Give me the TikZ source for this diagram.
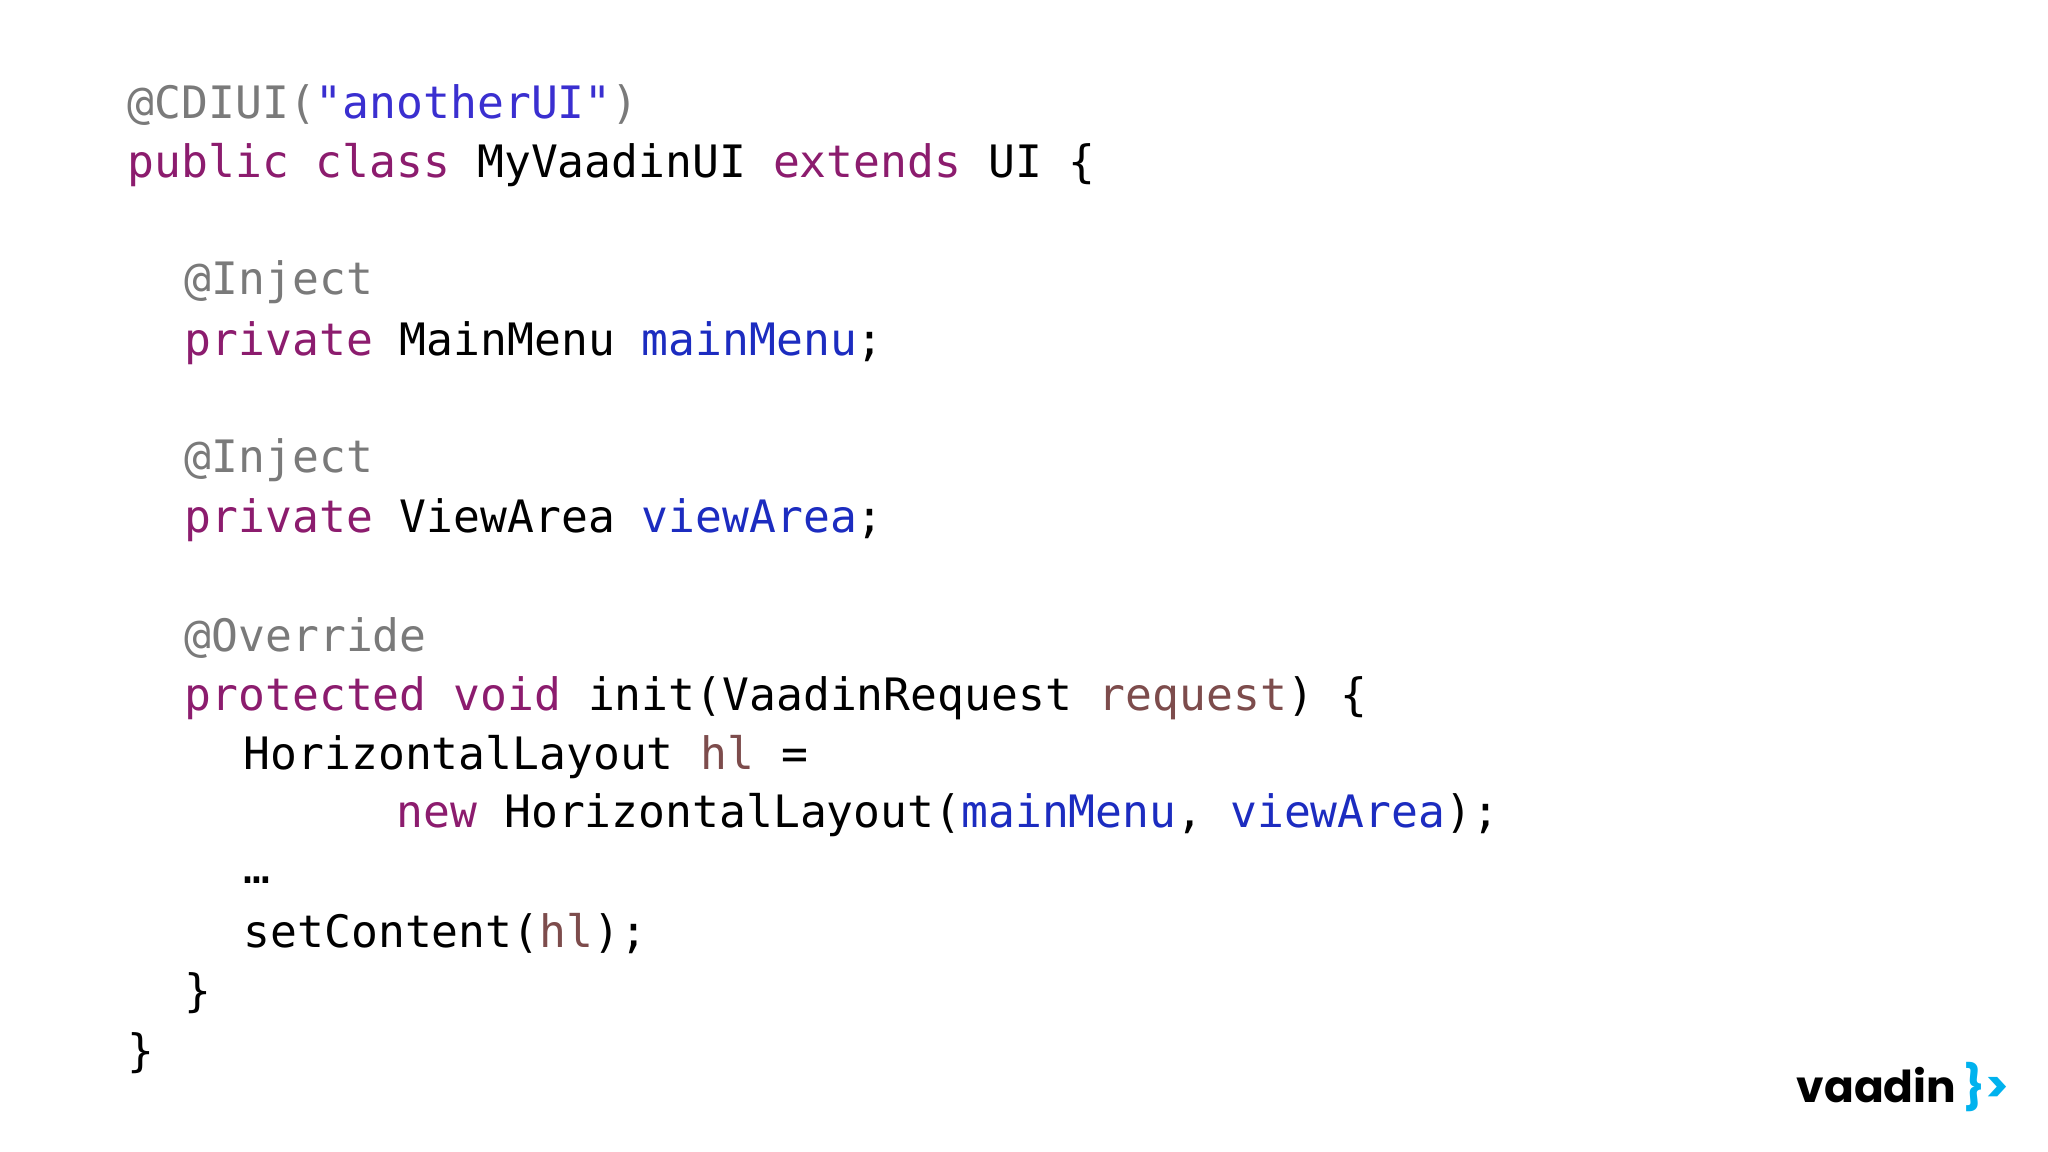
\documentclass[tikz,border=0pt]{standalone}
\usepackage{fontspec}
\setmonofont{DejaVu Sans Mono}
\newfontfamily\logofont{Poppins}
\definecolor{kw}{HTML}{8C1C6E}
\definecolor{ann}{HTML}{7A7A7A}
\definecolor{str}{HTML}{3A2FD0}
\definecolor{fld}{HTML}{1C2CC0}
\definecolor{loc}{HTML}{7D4C4C}
\definecolor{cy}{HTML}{00B2EE}
\newcommand{\K}[1]{\textcolor{kw}{#1}}
\newcommand{\A}[1]{\textcolor{ann}{#1}}
\newcommand{\F}[1]{\textcolor{fld}{#1}}
\newcommand{\Lc}[1]{\textcolor{loc}{#1}}
\begin{document}
\begin{tikzpicture}[x=0.01cm,y=-0.01cm,
  code/.style={anchor=west,inner sep=0pt,font=\ttfamily\fontsize{12.7}{14}\selectfont,text=black}]
\useasboundingbox[fill=white] (0,0) rectangle (2048,1152);
\node[code] (l1) at (127,105) {\A{@CDIUI(}\textcolor{str}{"anotherUI"}\A{)}};
\node[code] (l2) at (127,165) {\K{public class} MyVaadinUI \K{extends} UI \{};
\node[code] (l3) at (184,282) {\A{@Inject}};
\node[code] (l4) at (184,343) {\K{private} MainMenu \F{mainMenu};};
\node[code] (l5) at (184,460) {\A{@Inject}};
\node[code] (l6) at (184,520) {\K{private} ViewArea \F{viewArea};};
\node[code] (l7) at (184,638) {\A{@Override}};
\node[code] (l8) at (184,698) {\K{protected void} init(VaadinRequest \Lc{request}) \{};
\node[code] (l9) at (243,757) {HorizontalLayout \Lc{hl} =};
\node[code] (l10) at (396,815) {\K{new} HorizontalLayout(\F{mainMenu}, \F{viewArea});};
\node[code] (l11) at (243,880) {…};
\node[code] (l12) at (243,934) {setContent(\Lc{hl});};
\node[code] (l13) at (184,993) {\}};
\node[code] (l14) at (127,1053) {\}};
\node[anchor=center,inner sep=0pt,font=\logofont\bfseries\fontsize{12.5}{14}\selectfont] (logo) at (1903,1087) {vaadin\,\textcolor{cy}{\}>}};
\end{tikzpicture}
\end{document}
